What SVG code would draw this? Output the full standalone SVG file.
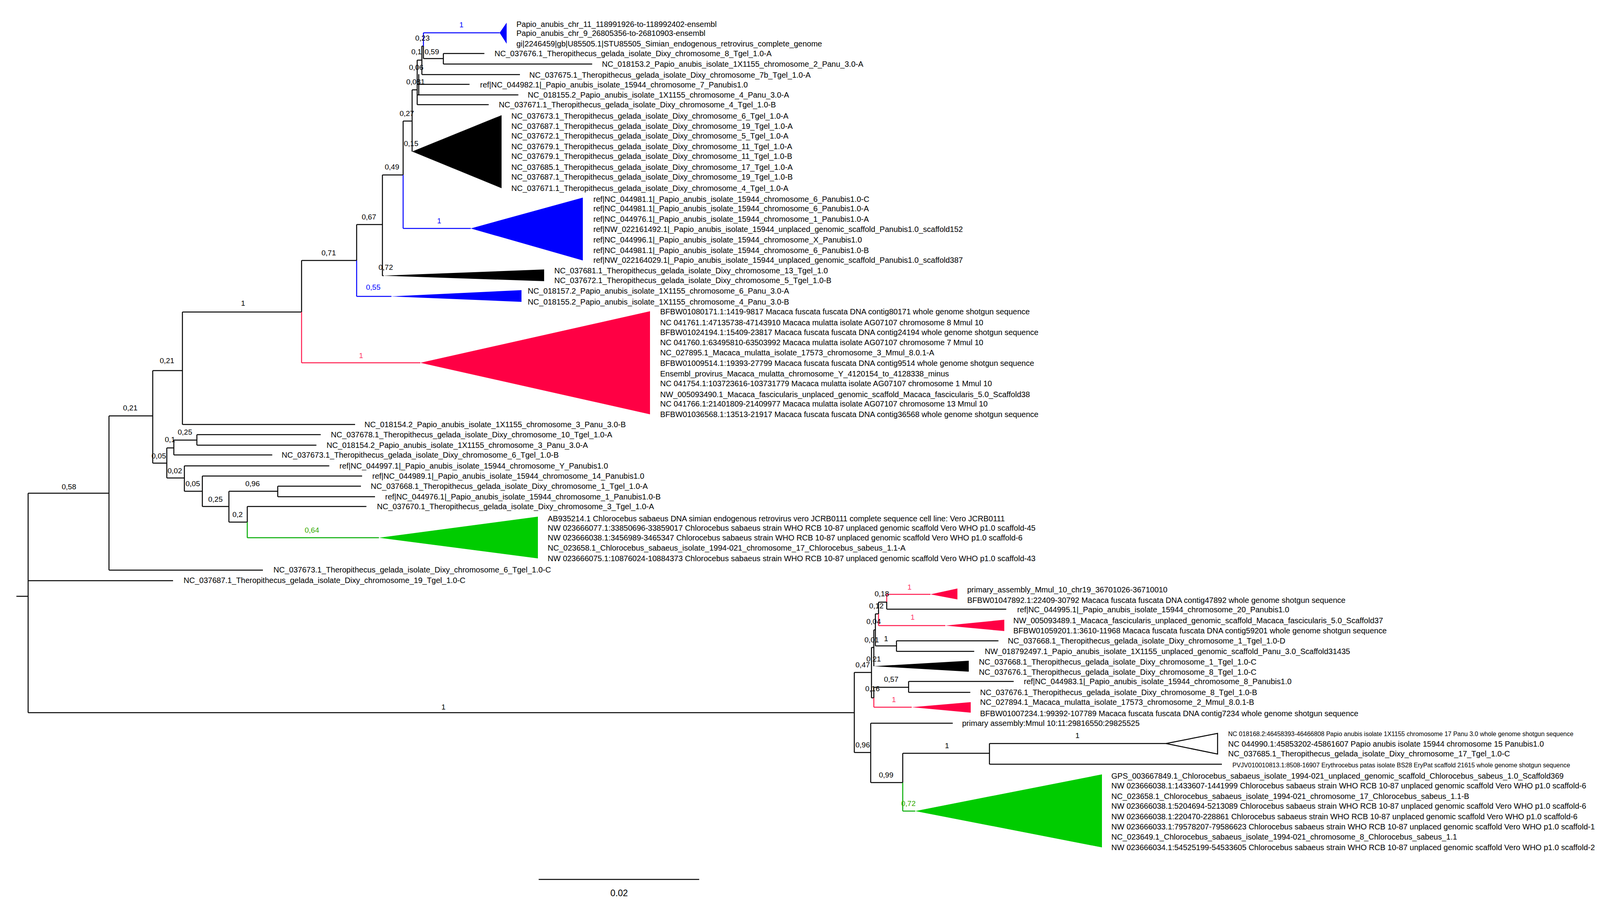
<svg xmlns="http://www.w3.org/2000/svg" width="4331" height="2338" viewBox="0 0 4331 2338">
<style>
text{font-family:"Liberation Sans",Arial,sans-serif}
.t{font-size:20px;fill:#000}
.s{font-size:16px;fill:#000}
.b{font-size:19px;fill:#000}
.bb{font-size:19px;fill:#0000ff}
.br{font-size:19px;fill:#ff3366}
.bg{font-size:19px;fill:#33aa00}
.k{stroke:#000;stroke-width:2.5;fill:none}
.u{stroke:#0000ff;stroke-width:2.5;fill:none}
.r{stroke:#ff1a4d;stroke-width:2.5;fill:none}
.g{stroke:#00aa00;stroke-width:2.5;fill:none}
</style>
<rect width="4331" height="2338" fill="#fff"/>
<g id="connectors">
<path class="k" d="M42,1527H72M72,1263V1825M72,1263H279M72,1487H443M72,1825H2187
M279,1065V1460M279,1460H673M279,1065H391
M391,949V1186M391,949H467M391,1186H427
M467,799V1087M467,1087H909M467,799H772
M772,667V799M772,667H913
M913,575V667M913,575H979
M979,448V706M979,706H982M979,448H1032
M1032,310V448M1032,310H1055
M1055,230V388M1055,230H1068
M1068,154V268M1068,154H1080M1068,216H1202M1068,243H1327M1068,268H1251M1072,190V243
M1080,118V191M1080,118H1084M1080,191H1331
M1084,118V150M1084,150H1135
M1135,137V164M1135,137H1240M1135,164H1516
M427,1147V1224M427,1147H445M427,1224H472
M445,1127V1165M445,1127H504M445,1165H697
M504,1113V1140M504,1113H821M504,1140H810
M472,1193V1258M472,1193H843M472,1258H518
M518,1219V1297M518,1219H927M518,1297H586
M586,1258V1337M586,1258H711M586,1337H633
M711,1245V1272M711,1245H924M711,1272H960
M633,1297V1337M633,1297H938
M2187,1722V1927M2187,1722H2231M2187,1927H2229
M2231,1658V1787M2231,1658H2237M2231,1787H2237
M2237,1613V1706M2237,1613H2241
M2241,1572V1654M2241,1572H2249M2241,1654H2295
M2295,1641V1668M2295,1641H2556M2295,1668H2494
M2249,1542V1572M2249,1542H2270
M2270,1541V1560M2270,1560H2576
M2237,1760V1787M2237,1760H2326
M2326,1745V1773M2326,1745H2595M2326,1773H2484
M2229,1852V2004M2229,1852H2439M2229,2004H2311
M2311,1929V2004M2311,1929H2533
M2533,1904V1957M2533,1904H2985M2533,1957H3128
M1379,2252H1790"/>
<path class="u" d="M1084,84V118M1084,84H1279M1032,448V585M1032,585H1205M913,667V759M913,759H1002"/>
<path class="r" d="M772,799V929M772,929H1076M2249,1572V1602M2249,1602H2420M2270,1522V1541M2270,1522H2382M2237,1787V1811M2237,1811H2334"/>
<path class="g" d="M633,1337V1377M633,1377H970M2311,2004V2077M2311,2077H2343"/>
</g>
<g id="clades">
<polygon points="1279,84 1297,58 1297,112" fill="#0000ff"/>
<polygon points="1055,388 1284,295 1284,482" fill="#000"/>
<polygon points="1205,585 1492,506 1492,667" fill="#0000ff"/>
<polygon points="980,706 1393,690 1393,720" fill="#000"/>
<polygon points="1000,759 1335,743 1335,773" fill="#0000ff"/>
<polygon points="1076,929 1664,797 1664,1061" fill="#ff0044"/>
<polygon points="970,1377 1377,1323 1377,1430" fill="#00cc00"/>
<polygon points="2382,1522 2451,1507 2451,1535" fill="#ff0044"/>
<polygon points="2420,1602 2571,1587 2571,1616" fill="#ff0044"/>
<polygon points="2237,1706 2480,1692 2480,1720" fill="#000"/>
<polygon points="2334,1811 2485,1798 2485,1825" fill="#ff0044"/>
<polygon points="2985,1904 3117,1878 3117,1931" fill="#fff" stroke="#000" stroke-width="2.5"/>
<polygon points="2343,2077 2821,1983 2821,2170" fill="#00cc00"/>
</g>
<g id="tips">
<text class="t" x="1322" y="69">Papio_anubis_chr_11_118991926-to-118992402-ensembl</text>
<text class="t" x="1322" y="92">Papio_anubis_chr_9_26805356-to-26810903-ensembl</text>
<text class="t" x="1322" y="119">gi|2246459|gb|U85505.1|STU85505_Simian_endogenous_retrovirus_complete_genome</text>
<text class="t" x="1266" y="144">NC_037676.1_Theropithecus_gelada_isolate_Dixy_chromosome_8_Tgel_1.0-A</text>
<text class="t" x="1541" y="171">NC_018153.2_Papio_anubis_isolate_1X1155_chromosome_2_Panu_3.0-A</text>
<text class="t" x="1355" y="199">NC_037675.1_Theropithecus_gelada_isolate_Dixy_chromosome_7b_Tgel_1.0-A</text>
<text class="t" x="1229" y="224">ref|NC_044982.1|_Papio_anubis_isolate_15944_chromosome_7_Panubis1.0</text>
<text class="t" x="1351" y="250">NC_018155.2_Papio_anubis_isolate_1X1155_chromosome_4_Panu_3.0-A</text>
<text class="t" x="1277" y="275">NC_037671.1_Theropithecus_gelada_isolate_Dixy_chromosome_4_Tgel_1.0-B</text>
<text class="t" x="1309" y="304">NC_037673.1_Theropithecus_gelada_isolate_Dixy_chromosome_6_Tgel_1.0-A</text>
<text class="t" x="1309" y="330">NC_037687.1_Theropithecus_gelada_isolate_Dixy_chromosome_19_Tgel_1.0-A</text>
<text class="t" x="1309" y="355">NC_037672.1_Theropithecus_gelada_isolate_Dixy_chromosome_5_Tgel_1.0-A</text>
<text class="t" x="1309" y="382">NC_037679.1_Theropithecus_gelada_isolate_Dixy_chromosome_11_Tgel_1.0-A</text>
<text class="t" x="1309" y="407">NC_037679.1_Theropithecus_gelada_isolate_Dixy_chromosome_11_Tgel_1.0-B</text>
<text class="t" x="1309" y="435">NC_037685.1_Theropithecus_gelada_isolate_Dixy_chromosome_17_Tgel_1.0-A</text>
<text class="t" x="1309" y="460">NC_037687.1_Theropithecus_gelada_isolate_Dixy_chromosome_19_Tgel_1.0-B</text>
<text class="t" x="1309" y="489">NC_037671.1_Theropithecus_gelada_isolate_Dixy_chromosome_4_Tgel_1.0-A</text>
<text class="t" x="1519" y="517">ref|NC_044981.1|_Papio_anubis_isolate_15944_chromosome_6_Panubis1.0-C</text>
<text class="t" x="1519" y="541">ref|NC_044981.1|_Papio_anubis_isolate_15944_chromosome_6_Panubis1.0-A</text>
<text class="t" x="1519" y="568">ref|NC_044976.1|_Papio_anubis_isolate_15944_chromosome_1_Panubis1.0-A</text>
<text class="t" x="1519" y="594">ref|NW_022161492.1|_Papio_anubis_isolate_15944_unplaced_genomic_scaffold_Panubis1.0_scaffold152</text>
<text class="t" x="1519" y="621">ref|NC_044996.1|_Papio_anubis_isolate_15944_chromosome_X_Panubis1.0</text>
<text class="t" x="1519" y="648">ref|NC_044981.1|_Papio_anubis_isolate_15944_chromosome_6_Panubis1.0-B</text>
<text class="t" x="1519" y="673">ref|NW_022164029.1|_Papio_anubis_isolate_15944_unplaced_genomic_scaffold_Panubis1.0_scaffold387</text>
<text class="t" x="1419" y="700">NC_037681.1_Theropithecus_gelada_isolate_Dixy_chromosome_13_Tgel_1.0</text>
<text class="t" x="1419" y="725">NC_037672.1_Theropithecus_gelada_isolate_Dixy_chromosome_5_Tgel_1.0-B</text>
<text class="t" x="1351" y="752">NC_018157.2_Papio_anubis_isolate_1X1155_chromosome_6_Panu_3.0-A</text>
<text class="t" x="1351" y="780">NC_018155.2_Papio_anubis_isolate_1X1155_chromosome_4_Panu_3.0-B</text>
<text class="t" x="1690" y="805">BFBW01080171.1:1419-9817 Macaca fuscata fuscata DNA contig80171 whole genome shotgun sequence</text>
<text class="t" x="1690" y="833">NC 041761.1:47135738-47143910 Macaca mulatta isolate AG07107 chromosome 8 Mmul 10</text>
<text class="t" x="1690" y="858">BFBW01024194.1:15409-23817 Macaca fuscata fuscata DNA contig24194 whole genome shotgun sequence</text>
<text class="t" x="1690" y="884">NC 041760.1:63495810-63503992 Macaca mulatta isolate AG07107 chromosome 7 Mmul 10</text>
<text class="t" x="1690" y="910">NC_027895.1_Macaca_mulatta_isolate_17573_chromosome_3_Mmul_8.0.1-A</text>
<text class="t" x="1690" y="937">BFBW01009514.1:19393-27799 Macaca fuscata fuscata DNA contig9514 whole genome shotgun sequence</text>
<text class="t" x="1690" y="964">Ensembl_provirus_Macaca_mulatta_chromosome_Y_4120154_to_4128338_minus</text>
<text class="t" x="1690" y="989">NC 041754.1:103723616-103731779 Macaca mulatta isolate AG07107 chromosome 1 Mmul 10</text>
<text class="t" x="1690" y="1017">NW_005093490.1_Macaca_fascicularis_unplaced_genomic_scaffold_Macaca_fascicularis_5.0_Scaffold38</text>
<text class="t" x="1690" y="1041">NC 041766.1:21401809-21409977 Macaca mulatta isolate AG07107 chromosome 13 Mmul 10</text>
<text class="t" x="1690" y="1068">BFBW01036568.1:13513-21917 Macaca fuscata fuscata DNA contig36568 whole genome shotgun sequence</text>
<text class="t" x="933" y="1094">NC_018154.2_Papio_anubis_isolate_1X1155_chromosome_3_Panu_3.0-B</text>
<text class="t" x="847" y="1120">NC_037678.1_Theropithecus_gelada_isolate_Dixy_chromosome_10_Tgel_1.0-A</text>
<text class="t" x="836" y="1147">NC_018154.2_Papio_anubis_isolate_1X1155_chromosome_3_Panu_3.0-A</text>
<text class="t" x="721" y="1172">NC_037673.1_Theropithecus_gelada_isolate_Dixy_chromosome_6_Tgel_1.0-B</text>
<text class="t" x="869" y="1200">ref|NC_044997.1|_Papio_anubis_isolate_15944_chromosome_Y_Panubis1.0</text>
<text class="t" x="953" y="1226">ref|NC_044989.1|_Papio_anubis_isolate_15944_chromosome_14_Panubis1.0</text>
<text class="t" x="949" y="1252">NC_037668.1_Theropithecus_gelada_isolate_Dixy_chromosome_1_Tgel_1.0-A</text>
<text class="t" x="986" y="1279">ref|NC_044976.1|_Papio_anubis_isolate_15944_chromosome_1_Panubis1.0-B</text>
<text class="t" x="965" y="1304">NC_037670.1_Theropithecus_gelada_isolate_Dixy_chromosome_3_Tgel_1.0-A</text>
<text class="t" x="1402" y="1335">AB935214.1 Chlorocebus sabaeus DNA simian endogenous retrovirus vero JCRB0111 complete sequence cell line: Vero JCRB0111</text>
<text class="t" x="1402" y="1359">NW 023666077.1:33850696-33859017 Chlorocebus sabaeus strain WHO RCB 10-87 unplaced genomic scaffold Vero WHO p1.0 scaffold-45</text>
<text class="t" x="1402" y="1384">NW 023666038.1:3456989-3465347 Chlorocebus sabaeus strain WHO RCB 10-87 unplaced genomic scaffold Vero WHO p1.0 scaffold-6</text>
<text class="t" x="1402" y="1410">NC_023658.1_Chlorocebus_sabaeus_isolate_1994-021_chromosome_17_Chlorocebus_sabeus_1.1-A</text>
<text class="t" x="1402" y="1437">NW 023666075.1:10876024-10884373 Chlorocebus sabaeus strain WHO RCB 10-87 unplaced genomic scaffold Vero WHO p1.0 scaffold-43</text>
<text class="t" x="700" y="1466">NC_037673.1_Theropithecus_gelada_isolate_Dixy_chromosome_6_Tgel_1.0-C</text>
<text class="t" x="470" y="1493">NC_037687.1_Theropithecus_gelada_isolate_Dixy_chromosome_19_Tgel_1.0-C</text>
<text class="t" x="2476" y="1517">primary_assembly_Mmul_10_chr19_36701026-36710010</text>
<text class="t" x="2476" y="1544">BFBW01047892.1:22409-30792 Macaca fuscata fuscata DNA contig47892 whole genome shotgun sequence</text>
<text class="t" x="2604" y="1568">ref|NC_044995.1|_Papio_anubis_isolate_15944_chromosome_20_Panubis1.0</text>
<text class="t" x="2594" y="1596">NW_005093489.1_Macaca_fascicularis_unplaced_genomic_scaffold_Macaca_fascicularis_5.0_Scaffold37</text>
<text class="t" x="2594" y="1622">BFBW01059201.1:3610-11968 Macaca fuscata fuscata DNA contig59201 whole genome shotgun sequence</text>
<text class="t" x="2580" y="1648">NC_037668.1_Theropithecus_gelada_isolate_Dixy_chromosome_1_Tgel_1.0-D</text>
<text class="t" x="2521" y="1675">NW_018792497.1_Papio_anubis_isolate_1X1155_unplaced_genomic_scaffold_Panu_3.0_Scaffold31435</text>
<text class="t" x="2506" y="1702">NC_037668.1_Theropithecus_gelada_isolate_Dixy_chromosome_1_Tgel_1.0-C</text>
<text class="t" x="2506" y="1728">NC_037676.1_Theropithecus_gelada_isolate_Dixy_chromosome_8_Tgel_1.0-C</text>
<text class="t" x="2621" y="1752">ref|NC_044983.1|_Papio_anubis_isolate_15944_chromosome_8_Panubis1.0</text>
<text class="t" x="2509" y="1780">NC_037676.1_Theropithecus_gelada_isolate_Dixy_chromosome_8_Tgel_1.0-B</text>
<text class="t" x="2509" y="1805">NC_027894.1_Macaca_mulatta_isolate_17573_chromosome_2_Mmul_8.0.1-B</text>
<text class="t" x="2509" y="1834">BFBW01007234.1:99392-107789 Macaca fuscata fuscata DNA contig7234 whole genome shotgun sequence</text>
<text class="t" x="2463" y="1859">primary assembly:Mmul 10:11:29816550:29825525</text>
<text class="s" x="3144" y="1885">NC 018168.2:46458393-46466808 Papio anubis isolate 1X1155 chromosome 17 Panu 3.0 whole genome shotgun sequence</text>
<text class="t" x="3144" y="1912">NC 044990.1:45853202-45861607 Papio anubis isolate 15944 chromosome 15 Panubis1.0</text>
<text class="t" x="3144" y="1937">NC_037685.1_Theropithecus_gelada_isolate_Dixy_chromosome_17_Tgel_1.0-C</text>
<text class="s" x="3155" y="1965">PVJV010010813.1:8508-16907 Erythrocebus patas isolate BS28 EryPat scaffold 21615 whole genome shotgun sequence</text>
<text class="t" x="2845" y="1994">GPS_003667849.1_Chlorocebus_sabaeus_isolate_1994-021_unplaced_genomic_scaffold_Chlorocebus_sabeus_1.0_Scaffold369</text>
<text class="t" x="2845" y="2019">NW 023666038.1:1433607-1441999 Chlorocebus sabaeus strain WHO RCB 10-87 unplaced genomic scaffold Vero WHO p1.0 scaffold-6</text>
<text class="t" x="2845" y="2046">NC_023658.1_Chlorocebus_sabaeus_isolate_1994-021_chromosome_17_Chlorocebus_sabeus_1.1-B</text>
<text class="t" x="2845" y="2071">NW 023666038.1:5204694-5213089 Chlorocebus sabaeus strain WHO RCB 10-87 unplaced genomic scaffold Vero WHO p1.0 scaffold-6</text>
<text class="t" x="2845" y="2098">NW 023666038.1:220470-228861 Chlorocebus sabaeus strain WHO RCB 10-87 unplaced genomic scaffold Vero WHO p1.0 scaffold-6</text>
<text class="t" x="2845" y="2124">NW 023666033.1:79578207-79586623 Chlorocebus sabaeus strain WHO RCB 10-87 unplaced genomic scaffold Vero WHO p1.0 scaffold-1</text>
<text class="t" x="2845" y="2150">NC_023649.1_Chlorocebus_sabaeus_isolate_1994-021_chromosome_8_Chlorocebus_sabeus_1.1</text>
<text class="t" x="2845" y="2177">NW 023666034.1:54525199-54533605 Chlorocebus sabaeus strain WHO RCB 10-87 unplaced genomic scaffold Vero WHO p1.0 scaffold-2</text>
</g>
<g id="support">
<text class="bb" x="1176" y="70">1</text>
<text class="b" x="1063" y="104">0,23</text>
<text class="b" x="1053" y="139">0,1</text>
<text class="b" x="1087" y="139">0,59</text>
<text class="b" x="1047" y="179">0,06</text>
<text class="b" x="1040" y="216">0,081</text>
<text class="b" x="1023" y="297">0,27</text>
<text class="b" x="1034" y="374">0,15</text>
<text class="b" x="985" y="434">0,49</text>
<text class="b" x="926" y="562">0,67</text>
<text class="bb" x="1119" y="572">1</text>
<text class="b" x="823" y="654">0,71</text>
<text class="b" x="969" y="691">0,72</text>
<text class="bb" x="937" y="742">0,55</text>
<text class="b" x="617" y="783">1</text>
<text class="br" x="919" y="917">1</text>
<text class="b" x="409" y="930">0,21</text>
<text class="b" x="315" y="1051">0,21</text>
<text class="b" x="158" y="1253">0,58</text>
<text class="b" x="455" y="1113">0,25</text>
<text class="b" x="422" y="1132">0,1</text>
<text class="b" x="388" y="1174">0,05</text>
<text class="b" x="429" y="1212">0,02</text>
<text class="b" x="475" y="1245">0,05</text>
<text class="b" x="628" y="1245">0,96</text>
<text class="b" x="533" y="1285">0,25</text>
<text class="b" x="595" y="1324">0,2</text>
<text class="bg" x="780" y="1364">0,64</text>
<text class="b" x="1130" y="1817">1</text>
<text class="b" x="2239" y="1527">0,18</text>
<text class="br" x="2323" y="1510">1</text>
<text class="b" x="2225" y="1558">0,12</text>
<text class="b" x="2218" y="1598">0,04</text>
<text class="br" x="2331" y="1587">1</text>
<text class="b" x="2213" y="1645">0,01</text>
<text class="b" x="2263" y="1642">1</text>
<text class="b" x="2218" y="1694">0,21</text>
<text class="b" x="2190" y="1709">0,47</text>
<text class="b" x="2263" y="1746">0,57</text>
<text class="b" x="2215" y="1770">0,16</text>
<text class="br" x="2283" y="1798">1</text>
<text class="b" x="2190" y="1914">0,96</text>
<text class="b" x="2419" y="1916">1</text>
<text class="b" x="2753" y="1890">1</text>
<text class="b" x="2250" y="1991">0,99</text>
<text class="bg" x="2307" y="2064">0,72</text>
<text x="1585" y="2295" text-anchor="middle" font-size="23" fill="#000">0.02</text>
</g>
</svg>
